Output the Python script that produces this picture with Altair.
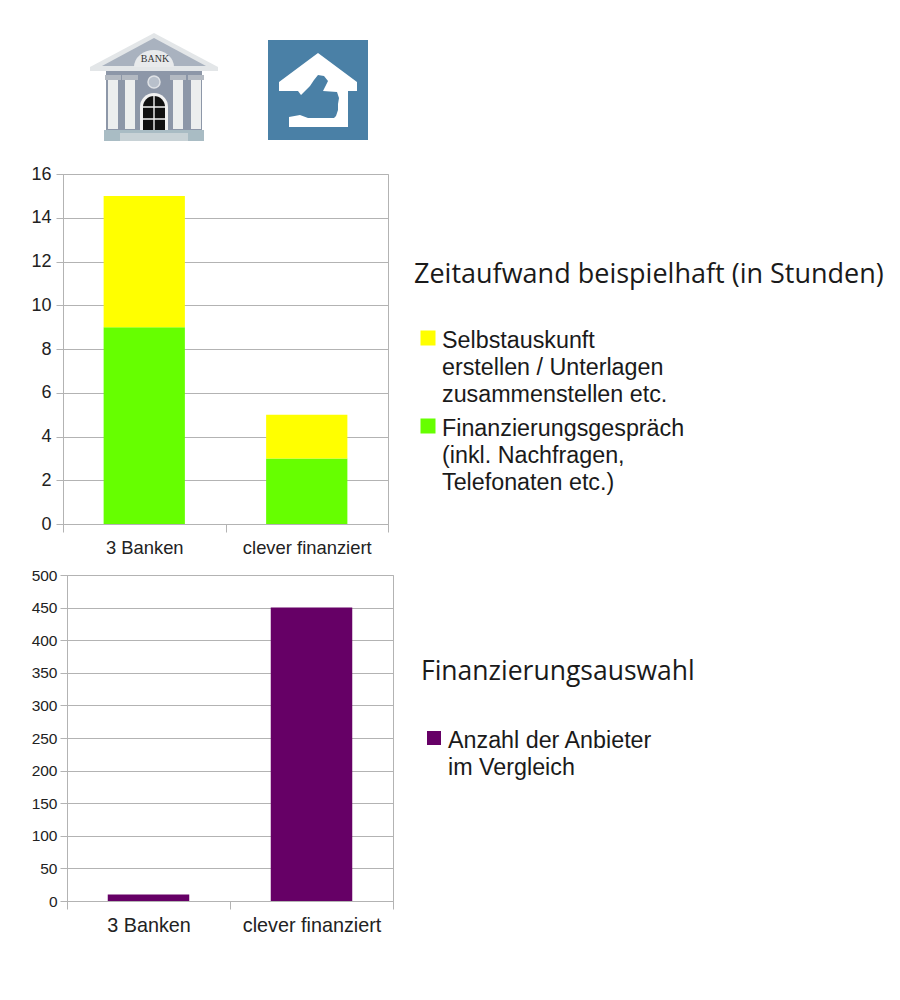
import base64
import altair as alt
import pandas as pd

categories = ["3 Banken", "clever finanziert"]
gespraech = [9, 3]
selbstauskunft = [6, 2]
anbieter = [10, 450]
series_names = ["Finanzierungsgespräch", "Selbstauskunft"]
series_colors = ["#66ff00", "#ffff00"]
ticks_top = [0, 2, 4, 6, 8, 10, 12, 14, 16]
ticks_bottom = [0, 50, 100, 150, 200, 250, 300, 350, 400, 450, 500]
title_top = "Zeitaufwand beispielhaft (in Stunden)"
title_bottom = "Finanzierungsauswahl"
legend_top_a = "Selbstauskunft\nerstellen / Unterlagen\nzusammenstellen etc."
legend_top_b = "Finanzierungsgespräch\n(inkl. Nachfragen,\nTelefonaten etc.)"
legend_bottom = "Anzahl der Anbieter\nim Vergleich"

GRID = "#b3b3b3"
SANS = "Liberation Sans"
HEAD = "Open Sans"

bank_svg = """<svg xmlns='http://www.w3.org/2000/svg' viewBox='0 0 128 108'>
<polygon points='64,0 128,34 128,38 0,38 0,34' fill='#e3e6e8'/>
<polygon points='64,5 116,33 12,33' fill='#a9b2bf'/>
<path d='M44,34 a20,17 0 0 1 40,0 z' fill='#e8eaec'/>
<rect x='16' y='38' width='96' height='60' fill='#8d97a8'/>
<g fill='#eceeee'><rect x='18' y='46' width='10' height='50'/><rect x='35' y='46' width='10' height='50'/><rect x='83' y='46' width='10' height='50'/><rect x='101' y='46' width='10' height='50'/></g>
<g fill='#b4bac2'><rect x='15' y='42' width='16' height='5'/><rect x='32' y='42' width='16' height='5'/><rect x='80' y='42' width='16' height='5'/><rect x='98' y='42' width='16' height='5'/></g>
<circle cx='64' cy='49' r='6' fill='#b8c0cb' stroke='#dfe2e6' stroke-width='1.5'/>
<path d='M50,98 V74 a14,14 0 0 1 28,0 V98 z' fill='#f2f2f2'/>
<path d='M53,98 V74 a11,11 0 0 1 22,0 V98 z' fill='#111111'/>
<g stroke='#f2f2f2' stroke-width='1.4'><path d='M64,62 V98 M53,74 H75 M53,86 H75'/></g>
<rect x='14' y='97' width='100' height='11' fill='#a9bcc4'/>
<rect x='30' y='100' width='68' height='8' fill='#c8d2d6'/>
</svg>"""

thumb_svg = """<svg xmlns='http://www.w3.org/2000/svg' viewBox='0 0 100 100'>
<rect width='100' height='100' fill='#4a80a6'/>
<polygon points='50,13 89,42 89,51 80,51 80,87 21,87 21,51 11,51 11,42' fill='#ffffff'/>
<polygon points='11,51 30,51 33,55 42,46 46,40 50,35 56,36 60,41 57,47 55,51 69,52 71,58 70,64 70,70 68,76 66,78 40,78 32,75 21,77 0,77 0,51' fill='#4a80a6'/>
<polygon points='0,40 11,42 11,77 0,77' fill='#4a80a6'/>
</svg>"""


def data_url(svg):
    return "data:image/svg+xml;base64," + base64.b64encode(svg.encode()).decode()


def one(**kw):
    return pd.DataFrame([kw])


def note(text, x, y, size, font, line_height=None):
    kw = {"lineHeight": line_height} if line_height else {}
    return (
        alt.Chart(one(t=text))
        .mark_text(align="left", baseline="middle", fontSize=size, font=font,
                   color="#1a1a1a", lineBreak="\n", **kw)
        .encode(text="t:N", x=alt.value(x), y=alt.value(y))
    )


def swatch(color, x, y, size):
    return (
        alt.Chart(one(c=color))
        .mark_square(size=size, color=color, opacity=1)
        .encode(x=alt.value(x), y=alt.value(y))
    )


def x_enc(size):
    return alt.X(
        "category:N",
        sort=categories,
        scale=alt.Scale(paddingInner=0, paddingOuter=0),
        axis=alt.Axis(
            title=None, labelAngle=0, grid=False, tickBand="extent",
            tickColor=GRID, tickSize=8, domainColor=GRID,
            labelFont=SANS, labelFontSize=size, labelColor="#222222",
            labelPadding=6, labelLimit=300,
        ),
    )


def y_axis(values, size, pad):
    return alt.Axis(
        title=None, values=values, gridColor=GRID, tickColor=GRID, tickSize=7,
        domainColor=GRID, labelFont=SANS, labelFontSize=size,
        labelColor="#222222", labelPadding=pad,
    )


# --- icons row
icons = alt.layer(
    alt.Chart(one(u=data_url(bank_svg))).mark_image(width=128, height=108)
    .encode(url="u:N", x=alt.value(91), y=alt.value(75)),
    alt.Chart(one(t="BANK")).mark_text(font="Liberation Serif", fontSize=10, color="#333333")
    .encode(text="t:N", x=alt.value(92), y=alt.value(47)),
    alt.Chart(one(u=data_url(thumb_svg))).mark_image(width=100, height=100)
    .encode(url="u:N", x=alt.value(255), y=alt.value(78)),
).properties(width=325, height=142, view=alt.ViewConfig(stroke=None))

# --- time chart
stack = pd.DataFrame({
    "category": categories * 2,
    "series": [series_names[0]] * 2 + [series_names[1]] * 2,
    "value": gespraech + selbstauskunft,
    "order": [0, 0, 1, 1],
})
bars_top = (
    alt.Chart(stack)
    .mark_bar(width=alt.RelativeBandSize(band=0.5))
    .encode(
        x=x_enc(18.4),
        y=alt.Y("value:Q", stack="zero",
                scale=alt.Scale(domain=[0, 16], nice=False), axis=y_axis(ticks_top, 18, 5)),
        color=alt.Color("series:N", scale=alt.Scale(domain=series_names, range=series_colors), legend=None),
        order=alt.Order("order:Q"),
    )
)
top = alt.layer(
    bars_top,
    note(title_top, 351, 101, 27, HEAD),
    swatch(series_colors[1], 365, 164, 225),
    note(legend_top_a, 379, 167, 23.3, SANS, 27),
    swatch(series_colors[0], 365, 252, 225),
    note(legend_top_b, 379, 255, 23.3, SANS, 27),
).properties(width=325, height=350, view=alt.ViewConfig(stroke=GRID))

# --- provider chart
single = pd.DataFrame({"category": categories, "value": anbieter})
bars_bottom = (
    alt.Chart(single)
    .mark_bar(width=alt.RelativeBandSize(band=0.5), color="#660066")
    .encode(
        x=x_enc(19.8),
        y=alt.Y("value:Q", scale=alt.Scale(domain=[0, 500], nice=False), axis=y_axis(ticks_bottom, 15.5, 3)),
    )
)
bottom = alt.layer(
    bars_bottom,
    note(title_bottom, 354, 97, 26.5, HEAD),
    swatch("#660066", 367, 163, 196),
    note(legend_bottom, 381, 166, 23.3, SANS, 27),
).properties(width=326, height=326, view=alt.ViewConfig(stroke=GRID))

# A narrow empty panel with negative spacing shifts the lower chart slightly right.
spacer = alt.Chart(one(a=1)).mark_point(opacity=0).encode(x=alt.value(0), y=alt.value(0)).properties(
    width=4, height=1, view=alt.ViewConfig(stroke=None))

chart = alt.vconcat(
    icons, top, alt.hconcat(spacer, bottom, spacing=-37), spacing=10
).properties(
    padding={"left": 22, "top": 4, "right": 0, "bottom": 0}
).configure_view(strokeWidth=1)

chart.save("out.html", embed_options={"renderer": "svg", "actions": False})
